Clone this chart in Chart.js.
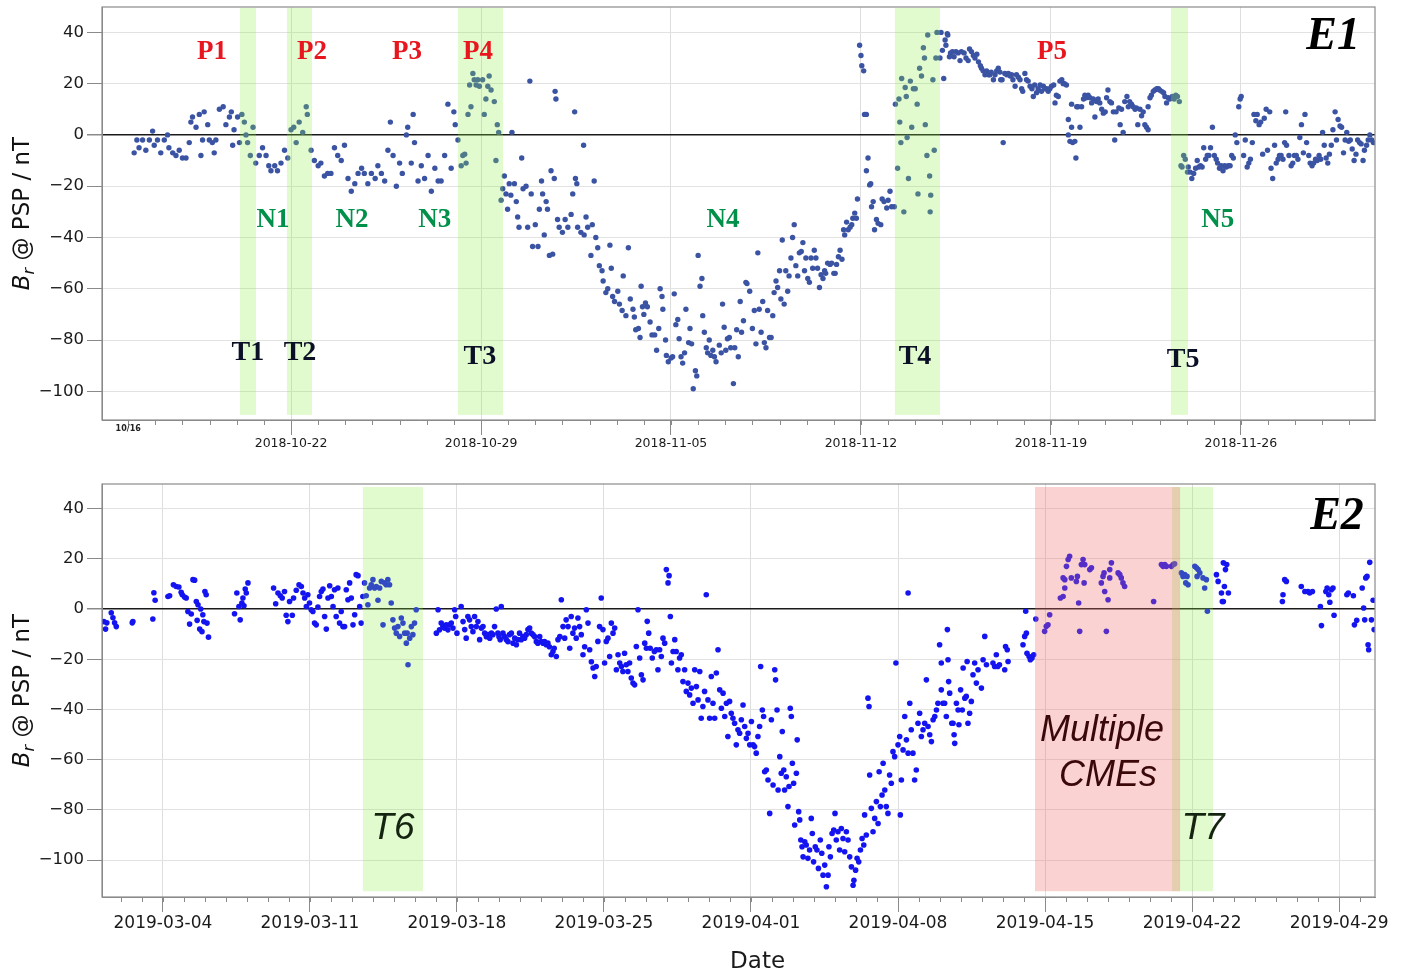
<!DOCTYPE html>
<html>
<head>
<meta charset="utf-8">
<title>Br @ PSP</title>
<script src="https://cdn.jsdelivr.net/npm/chart.js@4.4.0/dist/chart.umd.min.js"></script>
<style>
  html, body { margin: 0; padding: 0; background: #fff; }
  #wrap { position: relative; width: 1422px; height: 973px; }
  .panel { position: absolute; left: 0; width: 1422px; }
  #p1 { top: 0; height: 465px; }
  #p2 { top: 465px; height: 508px; }
</style>
</head>
<body>
<div id="wrap">
  <div class="panel" id="p1"><canvas id="canvasE1"></canvas></div>
  <div class="panel" id="p2"><canvas id="canvasE2"></canvas></div>
</div>
<script>
// ---- data: E1 (days after 2018-10-16, Br in nT) ----
const e1Base = "2018-10-16";
const e1Range = [-0.965, 45.94];
const e1YRange = [-111.2, 49.9];
const e1Ticks = ["2018-10-22", "2018-10-29", "2018-11-05", "2018-11-12", "2018-11-19", "2018-11-26"];
const e1Points = [
  [0.22,-7],[0.32,-2],[0.4,-5],[0.53,-2],[0.65,-6],[0.78,-2],[0.9,1.5],[0.96,-4],[1.08,-2],[1.2,-7],[1.33,-2],[1.45,0],
  [1.5,-5],[1.64,-7],[1.76,-8],[1.88,-6],[2.0,-9],[2.13,-9],[2.25,-3],[2.31,5],[2.37,7],[2.5,3],[2.62,8],[2.68,-8],
  [2.74,-2],[2.8,9],[2.93,4],[2.99,-2],[3.1,-3],[3.17,-7],[3.23,-2],[3.36,10],[3.5,11],[3.6,4],[3.73,7],[3.8,9],
  [3.85,-4],[3.9,2],[4.03,7],[4.1,-3],[4.19,8],[4.28,5],[4.34,0],[4.4,-3],[4.5,-8],[4.6,3],[4.7,-11],[4.83,-8],
  [4.95,-5],[5.08,-8],[5.18,-12],[5.26,-14],[5.4,-12],[5.5,-14],[5.63,-11],[5.76,-6],[5.88,-9],[6.0,2],[6.1,3],[6.19,-3],
  [6.3,5],[6.43,1],[6.56,11],[6.6,8],[6.74,-6],[6.86,-10],[7.0,-12],[7.1,-11],[7.23,-16],[7.35,-15],[7.47,-15],[7.6,-5],
  [7.72,-8],[7.85,-10],[7.97,-4],[8.1,-17],[8.22,-22],[8.35,-19],[8.47,-15],[8.6,-13],[8.7,-15],[8.83,-19],[8.96,-15],[9.1,-17],
  [9.2,-12],[9.33,-15],[9.45,-18],[9.57,-6],[9.66,5],[9.76,-8],[9.88,-20],[10.0,-11],[10.1,-15],[10.25,0],[10.3,3],[10.43,-11],
  [10.5,8],[10.55,-3],[10.68,-18],[10.8,-12],[10.92,-17],[11.05,-8],[11.17,-22],[11.3,-13],[11.42,-18],[11.53,-18],[11.66,-8],[11.78,12],
  [11.9,-13],[12.0,9],[12.05,4],[12.15,-2],
  [12.27,-12],[12.33,-8],[12.4,-7.5],[12.45,-11],[12.52,8],[12.58,19.5],[12.63,11],[12.7,24],[12.75,21.5],[12.82,19.5],[12.88,21.5],[12.94,19],
  [13.06,21.5],[13.12,8],[13.18,14],[13.25,19],[13.3,23],[13.37,17.5],[13.49,13],[13.55,-10],[13.6,4],[13.65,1],[13.74,-25.5],[13.8,-21],
  [13.86,-16],[13.92,-23],[13.98,-29],[14.04,-19],[14.1,-23.5],[14.14,1],[14.23,-19],[14.3,-26],[14.35,-32],[14.4,-36],[14.5,-9],[14.55,-21],
  [14.66,-20],[14.72,-36],[14.8,21],[14.85,-23],[14.9,-43.5],[15.0,-35],[15.1,-43.5],[15.15,-29],[15.23,-18],[15.27,-23],[15.33,-39],[15.4,-26],
  [15.45,-29],[15.52,-47],[15.58,-14],[15.64,-46.5],[15.7,-17],[15.73,17],[15.76,14],[15.82,-33],[15.88,-36],[16.0,-38],[16.1,-33],[16.2,-36],
  [16.32,-31],[16.38,-23],[16.45,9],[16.48,-17],[16.53,-19],[16.56,-36],[16.68,-38],[16.78,-4],[16.8,-39],[16.87,-32],[16.93,-36],[17.05,-47],
  [17.1,-35],[17.17,-18],[17.23,-40],[17.3,-44],[17.36,-51],[17.46,-53],[17.5,-57],[17.6,-61.5],[17.67,-60],[17.75,-43],[17.8,-52],[17.85,-63],
  [17.92,-65],[18.04,-61],[18.1,-66],[18.2,-68.5],[18.24,-55],[18.34,-70.5],[18.43,-44],[18.5,-64],[18.6,-68],[18.65,-71],[18.7,-76],[18.8,-75.5],
  [18.86,-79],[18.9,-59],[18.95,-67],[19.0,-70],[19.06,-65.5],[19.13,-67],[19.23,-73],[19.3,-78],[19.4,-78],[19.47,-84],[19.55,-75.5],[19.6,-60],
  [19.67,-63],[19.7,-68],[19.8,-80],[19.83,-86],[19.9,-88.5],[20.0,-87],[20.06,-86.5],[20.12,-62],[20.18,-74],[20.25,-72],[20.3,-79.5],[20.37,-86.5],
  [20.43,-89],[20.5,-85],[20.55,-68],[20.65,-81],[20.7,-75.5],[20.76,-81.5],[20.82,-99],[20.9,-92],[20.95,-94],[21.0,-47],[21.07,-59],[21.14,-56],
  [21.17,-70.5],[21.23,-77],[21.3,-83],[21.35,-85],[21.41,-80],[21.47,-86],[21.54,-84],[21.6,-86.5],[21.66,-88.5],[21.78,-82],[21.85,-85],[21.9,-66],
  [21.96,-75],[22.02,-84],[22.08,-79.5],[22.15,-79],[22.2,-83],[22.3,-97],[22.35,-83],[22.42,-76],[22.48,-86.5],[22.55,-65],[22.6,-77],[22.67,-72.5],
  [22.76,-57.5],[22.8,-58],[22.9,-61],[23.0,-75.5],[23.07,-68.5],[23.13,-81.5],[23.2,-46],[23.25,-68],[23.32,-77],[23.38,-65],[23.44,-81],[23.5,-83],
  [23.56,-68.5],[23.63,-79],[23.69,-79],[23.75,-70.5],[23.8,-61.5],[23.87,-57],[23.93,-59.5],[24.0,-53],[24.05,-64],[24.1,-41],[24.17,-66],[24.23,-53],
  [24.3,-61],[24.35,-55],[24.42,-48],[24.48,-40],[24.54,-35],[24.6,-51],[24.67,-55],[24.73,-46],[24.8,-45.5],[24.86,-42],[24.92,-53],[24.97,-48],
  [25.04,-56],[25.1,-57.5],[25.16,-48],[25.22,-52],[25.28,-45],[25.34,-48],[25.4,-52],[25.47,-59.5],[25.53,-54.5],[25.6,-56],[25.66,-53],[25.7,-54],
  [25.77,-50],[25.86,-50.5],[25.92,-50],[26.0,-54],[26.05,-54],[26.1,-50.5],[26.17,-47.5],[26.23,-45],[26.3,-48.5],[26.36,-37],[26.4,-39],[26.47,-34],
  [26.53,-37],[26.6,-36],[26.66,-35],[26.7,-32.5],[26.77,-30.5],[26.83,-32.5],[26.87,-25],[26.95,35],[27.0,31],[27.03,27],[27.1,25],[27.13,8],
  [27.2,8],[27.2,-14],[27.26,-9],[27.32,-19.5],[27.36,-19],[27.39,-28],[27.45,-26],[27.5,-37],[27.57,-33],[27.63,-34.5],[27.73,-35],[27.78,-25],
  [27.85,-26],[27.95,-28.5],[28.0,-25.5],[28.07,-22],[28.13,-28],[28.23,-28],[28.27,12],[28.35,-13],[28.4,14],[28.43,5],[28.47,-3],[28.5,22],
  [28.58,-30],[28.63,18.5],[28.67,15],[28.7,-1],[28.75,-17],[28.82,21],[28.87,3],[28.93,18],[29.0,18],[29.07,12],[29.1,-23],[29.16,26],
  [29.23,23],[29.3,34],[29.34,30],[29.37,4],[29.43,-8],[29.46,39],[29.53,-16],[29.55,-30],[29.57,-23.5],[29.65,21.5],[29.7,-6],[29.76,30],
  [29.8,40],[29.91,30],[29.95,40],[30.0,33],[30.05,22],[30.1,37],[30.13,35],[30.18,39.5],[30.2,39],[30.26,30.5],[30.3,32],[30.37,32.5],
  [30.43,30.5],[30.5,32.5],[30.58,32],[30.65,29],[30.7,32.5],[30.8,32],[30.87,30],[30.95,29],[31.0,33.5],[31.07,32.5],[31.14,31],[31.2,30],
  [31.27,31.5],[31.33,28.5],[31.4,27],[31.44,26],[31.5,25],[31.57,23.5],[31.63,25],[31.7,23.5],[31.75,23.5],[31.8,24.5],[31.88,21.5],[31.94,23.5],
  [32.0,25],[32.06,26],[32.12,24.5],[32.15,21.5],[32.2,21.5],[32.24,-3],[32.3,24],[32.37,23.5],[32.43,24],[32.5,23],[32.55,23.5],[32.6,21.5],
  [32.68,19],[32.73,23.5],[32.8,22.5],[32.86,21.5],[32.92,18],[32.96,17],[33.04,24],[33.1,21.5],[33.16,21],[33.23,19],[33.3,18],[33.35,15],
  [33.4,19.5],[33.47,16.5],[33.53,18],[33.6,19.5],[33.65,17],[33.72,19],[33.78,18],[33.84,18],[33.9,17],[33.96,18],[34.02,19],[34.1,19.5],
  [34.15,12.5],[34.2,15.5],[34.27,15],[34.33,21],[34.4,21.5],[34.45,20],[34.5,20],[34.57,19.5],[34.64,6],[34.64,0],[34.7,-2.5],[34.76,12],
  [34.76,3],[34.8,-3],[34.88,-2.5],[34.92,-9],[34.95,11],[35.0,11],[35.07,3],[35.13,11],[35.2,14],[35.25,15.5],[35.3,14.5],[35.37,15.5],
  [35.44,14.5],[35.5,12.5],[35.56,14],[35.62,7],[35.68,13],[35.74,14],[35.8,12.5],[35.87,10],[35.93,8.5],[36.0,9],[36.05,14.5],[36.1,17.5],
  [36.17,13],[36.23,12.5],[36.3,9],[36.35,-2],[36.4,9],[36.5,10.5],[36.55,4],[36.6,10],[36.66,1],[36.72,13],[36.8,15],[36.85,11],
  [36.9,13],[36.97,12],[37.03,11],[37.1,10],[37.15,10.5],[37.2,4],[37.28,10],[37.34,7.5],[37.4,9],[37.46,4],[37.52,3],[37.58,2],
  [37.58,11],[37.65,14.5],[37.7,15.5],[37.77,17],[37.83,17.5],[37.9,18],[37.96,18],[38.0,17.5],[38.08,17],[38.15,16.5],[38.2,15],[38.26,12.5],
  [38.32,14.5],[38.38,14],[38.47,15],[38.54,14],[38.6,15.5],[38.66,15],[38.73,13],[38.79,-12],[38.83,-12.5],[38.89,-8],[38.95,-9.5],[39.03,-14.5],
  [39.06,-12.5],[39.13,-14.5],[39.19,-17],[39.26,-15],[39.33,-13],[39.39,-10],[39.45,-12.5],[39.51,-12],[39.57,-12.5],[39.63,-5],[39.7,-9.5],[39.76,-8],
  [39.82,-8],[39.88,-5],[39.95,3],[40.02,-8],[40.09,-9.5],[40.14,-11],[40.21,-13],[40.27,-12],[40.34,-14],[40.4,-12],[40.46,-12.5],[40.53,-12],
  [40.6,-12],[40.66,-8],[40.72,-9],[40.79,0],[40.85,-3],[40.92,11],[40.97,14],[41.01,15],[41.1,-8],[41.16,-2],[41.23,-12.5],[41.29,-11],
  [41.35,-9.5],[41.42,-3],[41.48,8],[41.55,5.5],[41.6,8],[41.67,4],[41.73,5],[41.8,-7.5],[41.86,6.5],[41.93,10],[41.98,-6],[42.06,9],
  [42.11,-13],[42.17,-17],[42.24,-4],[42.3,-11],[42.37,-9.5],[42.42,-8],[42.48,-8],[42.55,-9.5],[42.61,-3],[42.65,9],[42.68,-4],[42.77,-8],
  [42.85,-12],[42.91,-11],[42.97,-8],[43.04,-8],[43.1,-9.5],[43.17,-1],[43.23,4],[43.3,-7],[43.36,8],[43.42,-3],[43.5,-8],[43.55,-11],
  [43.62,-12],[43.68,-11],[43.75,-9.5],[43.81,-10],[43.88,-8],[43.94,-9.5],[44.01,1],[44.07,-4],[44.14,-9],[44.2,-11],[44.26,-7.5],[44.33,-4],
  [44.39,2],[44.47,9],[44.52,-2],[44.58,6],[44.65,3.5],[44.71,3],[44.78,-7],[44.84,-2],[44.9,1],[44.97,-2.5],[45.03,-2],[45.1,-5.5],
  [45.17,-10],[45.24,-7.5],[45.3,-2],[45.37,-3],[45.43,-3.5],[45.5,-10],[45.55,-6],[45.63,-4],[45.69,-2],[45.75,0],[45.82,-2],[45.88,-3]
];
const e1Bands = [[4.12, 4.71], [5.85, 6.77], [12.15, 13.81], [28.25, 29.91], [38.42, 39.05]];
const e1BandSpan = [-109.2, 49.5];
const e1P = [["P1", 3.09, 32.4], ["P2", 6.77, 32.4], ["P3", 10.27, 32.4], ["P4", 12.89, 32.4], ["P5", 34.04, 32.4]];
const e1N = [["N1", 5.34, -33.2], ["N2", 8.25, -33.2], ["N3", 11.3, -33.2], ["N4", 21.92, -33.2], ["N5", 40.15, -33.2]];
const e1T = [["T1", 4.41, -85], ["T2", 6.33, -85], ["T3", 12.96, -86.6], ["T4", 28.99, -86.6], ["T5", 38.87, -87.8]];
const e1Tag = ["E1", 44.4, 38.2];

// ---- data: E2 (days after 2019-03-04, Br in nT) ----
const e2Base = "2019-03-04";
const e2Range = [-2.9, 57.71];
const e2YRange = [-114.7, 49.8];
const e2Ticks = ["2019-03-04", "2019-03-11", "2019-03-18", "2019-03-25", "2019-04-01", "2019-04-08", "2019-04-15", "2019-04-22", "2019-04-29"];
const e2Points = [
  [-2.81,-5],[-2.73,-8],[-2.67,-5.5],[-2.46,-1.5],[-2.38,-3.5],[-2.3,-5.5],[-2.22,-7],[-1.46,-5.5],[-1.43,-5],[-0.48,-4],[-0.43,6.5],[-0.37,3.5],
  [0.24,5],[0.32,5.3],[0.5,9.7],[0.63,9],[0.76,8.8],[0.87,6.7],[0.92,5.7],[1.03,4.8],[1.11,4.4],[1.19,-1],[1.27,-6],[1.35,-2],
  [1.43,11.7],[1.51,11.5],[1.59,3],[1.63,-4.5],[1.67,1.7],[1.75,-8],[1.8,0],[1.86,-9],[1.9,-2.3],[1.95,-5],[2.0,7],[2.06,5.7],
  [2.1,-5.6],[2.17,-11.2],[3.41,-1.9],[3.52,6.4],[3.62,1],[3.68,-4.3],[3.76,2.4],[3.81,4.4],[3.86,1.3],[3.92,8],[3.97,6.4],[4.05,10.4],
  [5.27,8.4],[5.37,2.1],[5.48,6.4],[5.59,5.3],[5.68,4.4],[5.79,7],[5.87,-2.5],[5.95,-5],[6.03,3],[6.16,-2.5],[6.22,4.4],[6.35,7.5],
  [6.48,9.7],[6.59,9],[6.67,6.4],[6.75,4.4],[6.83,1],[6.9,5.7],[6.98,2.4],[7.06,-0.3],[7.14,-1],[7.22,-5.6],[7.3,-6.3],[7.38,0.8],
  [7.46,5],[7.54,7],[7.62,8],[7.7,-3],[7.78,-8],[7.86,4.4],[7.94,9.3],[8.02,5],[8.1,1],[8.17,7.7],[8.25,-3],[8.33,8.4],
  [8.41,-5.6],[8.49,-1],[8.57,-7],[8.65,-7],[8.73,7.7],[8.81,3.7],[8.89,10.4],[8.97,4.4],[9.05,-6.3],[9.13,-2.3],[9.2,13.7],[9.29,13.3],
  [9.37,1],[9.44,-5.6],[9.52,5],[9.6,10.4],[9.68,5.3],[9.76,1.7],[9.84,8.4],[9.92,9.7],[10.0,11.7],[10.08,8.4],[10.16,9],[10.24,3.5],
  [10.32,8.4],[10.4,11],[10.48,-6.3],[10.56,10.4],[10.63,9.7],[10.71,11.7],[10.79,9.7],[10.87,2.4],[10.95,-4.3],[11.03,-7.6],[11.11,-9.6],[11.19,-7],
  [11.27,-10.9],[11.35,-3.6],[11.43,-5.6],[11.51,-9.6],[11.59,-13.6],[11.63,-9.6],[11.67,-22.2],[11.75,-11.6],[11.83,-7],[11.9,-10.2],[11.98,-5.6],[12.06,-0.3],
  [13.02,-9.6],[13.1,-0.3],[13.17,-8.3],[13.25,-5.6],[13.33,-7],[13.41,-7.6],[13.49,-6.3],[13.57,-8.3],[13.65,-6.3],[13.73,-5.6],[13.81,-7.6],[13.89,-0.3],
  [13.94,-3],[14.0,-9.6],
  [14.2,1],[14.29,-5],[14.37,-8.2],[14.44,-11.6],[14.52,-3],[14.6,-4.3],[14.68,-7],[14.76,-9],[14.84,-3],[14.92,-7],[15.0,-5],[15.08,-12.2],
  [15.16,-7.6],[15.24,-7],[15.32,-9.6],[15.4,-11],[15.48,-10.2],[15.56,-11.6],[15.64,-9.6],[15.71,-10.2],[15.79,-7],[15.87,0],[15.95,-9.6],[16.0,-11],
  [16.06,-12.2],[16.11,1],[16.19,-9.6],[16.27,-11],[16.35,-12.2],[16.43,-13],[16.5,-10.2],[16.59,-9.6],[16.67,-13.6],[16.75,-11.6],[16.83,-14.2],[16.9,-12.2],
  [16.98,-9.6],[17.06,-12.2],[17.14,-11],[17.22,-11.6],[17.3,-10.2],[17.38,-8.2],[17.46,-7.6],[17.54,-9.6],[17.62,-10.2],[17.7,-11],[17.78,-13],[17.85,-13.6],
  [17.94,-11],[18.02,-13],[18.1,-13.6],[18.17,-13],[18.25,-14.2],[18.33,-13.6],[18.4,-15],[18.49,-18.2],[18.57,-16.9],[18.63,-15.6],[18.73,-18.9],[18.81,-12.2],
  [18.9,-11],[18.97,3.7],[19.05,-7],[19.13,-11.6],[19.2,-4.3],[19.29,-7],[19.37,-15.6],[19.44,-3],[19.52,-9.6],[19.6,-7.6],[19.68,-11.6],[19.76,-3.6],
  [19.84,-7],[19.92,-10.2],[20.0,-18.2],[20.08,-15],[20.16,-0.3],[20.24,-5.6],[20.32,-16.2],[20.4,-21],[20.48,-23.5],[20.56,-26.9],[20.63,-22.9],[20.71,-12.9],
  [20.79,-7],[20.87,4.4],[20.95,-8.2],[21.03,-21.5],[21.11,-12.9],[21.19,-11.6],[21.27,-18.9],[21.35,-5.6],[21.43,-9.6],[21.51,-7.6],[21.59,-24.2],[21.67,-18.2],
  [21.75,-21.5],[21.83,-22.9],[21.9,-24.9],[21.98,-17.6],[22.06,-22.2],[22.14,-24.9],[22.22,-21.5],[22.3,-27.5],[22.38,-29.5],[22.46,-30.2],[22.54,-14.9],[22.62,-0.3],
  [22.7,-19.5],[22.78,-26.2],[22.86,-28.2],[22.94,-13.6],[23.02,-15.6],[23.06,-4.9],[23.13,-9.6],[23.2,-15.6],[23.3,-19.5],[23.4,-16.9],[23.49,-16.2],[23.57,-24.2],
  [23.65,-16.2],[23.73,-18.9],[23.81,-11.6],[23.89,-13.6],[23.97,15.7],[24.05,10.4],[24.1,13.3],[24.16,-3],[24.21,-21.5],[24.29,-16.9],[24.37,-12.2],[24.44,-16.9],
  [24.52,-24.2],[24.6,-19.5],[24.68,-18.2],[24.76,-28.9],[24.84,-24.2],[24.92,-32.8],[25.0,-29.5],[25.08,-34.2],[25.16,-31.5],[25.24,-37.5],[25.32,-24.2],[25.4,-30.9],
  [25.48,-36.2],[25.56,-24.9],[25.63,-43.5],[25.71,-38.8],[25.79,-32.8],[25.87,5.7],[25.95,-36.2],[26.03,-43.5],[26.11,-26.9],[26.19,-37.5],[26.27,-43.5],[26.35,-25.5],
  [26.43,-16.2],[26.51,-32.2],[26.59,-39.5],[26.67,-33.5],[26.75,-42.8],[26.83,-37.5],[26.9,-50.8],[26.98,-36.8],[27.06,-41.5],[27.14,-43.5],[27.22,-45.5],[27.3,-54.1],
  [27.38,-48.1],[27.46,-49.5],[27.54,-44.1],[27.62,-38.2],[27.7,-46.8],[27.78,-51.5],[27.86,-49.5],[27.94,-54.1],[28.02,-44.8],[28.1,-54.1],[28.17,-54.8],[28.25,-57.4],
  [28.33,-50.8],[28.41,-46.8],[28.46,-22.9],[28.54,-40.2],[28.6,-42.8],[28.65,-64.8],[28.73,-64.1],[28.81,-68.1],[28.89,-81.4],[28.97,-44.1],[29.05,-70.1],[29.13,-24.2],
  [29.17,-28.2],[29.24,-40.2],[29.29,-72.1],[29.37,-58.8],[29.44,-65.4],[29.49,-48.8],[29.56,-64.1],[29.6,-72.1],[29.68,-66.8],[29.76,-78.7],[29.81,-70.7],[29.87,-39.5],
  [29.92,-42.8],[29.97,-61.4],[30.03,-69.4],[30.08,-86],[30.16,-65.4],[30.2,-52.1],[30.27,-80.7],[30.32,-84],[30.37,-92],[30.43,-94.7],[30.48,-98.7],[30.56,-92.7],
  [30.63,-94],[30.71,-99.3],[30.79,-96],[30.87,-83.4],[30.92,-89.4],[30.98,-100.7],[31.06,-94.7],[31.14,-96],[31.21,-103.3],[31.3,-92],[31.37,-97.3],[31.43,-106],
  [31.51,-102],[31.59,-110.6],[31.67,-106],[31.71,-94.7],[31.78,-98.7],[31.86,-89.4],[31.94,-88],[32.0,-81.4],[32.06,-92],[32.14,-88.7],[32.22,-96],[32.3,-87.4],
  [32.38,-91.4],[32.46,-96.7],[32.54,-88.7],[32.62,-92],[32.7,-98.7],[32.78,-102.7],[32.86,-110],[32.9,-108],[32.98,-104],[33.05,-99.3],[33.13,-100.7],[33.21,-96],
  [33.29,-91.4],[33.37,-94],[33.41,-82],[33.49,-90],[33.57,-35.5],[33.62,-38.8],[33.65,-66.1],[33.73,-79.4],[33.81,-88.7],[33.89,-83.4],[33.97,-76.7],[34.05,-85.4],
  [34.1,-64.8],[34.16,-78.7],[34.24,-74.1],[34.29,-61.4],[34.37,-72.1],[34.44,-78.7],[34.52,-81.4],[34.6,-66.1],[34.68,-69.4],[34.76,-56.8],[34.84,-58.8],[34.9,-21.5],
  [35.0,-54.1],[35.08,-50.8],[35.11,-82],[35.16,-68.1],[35.24,-56.1],[35.32,-42.8],[35.4,-52.1],[35.48,6.4],[35.48,-57.4],[35.56,-37.5],[35.63,-48.1],[35.71,-57.4],
  [35.79,-68.1],[35.87,-64.1],[35.95,-45.5],[36.03,-41.5],[36.11,-50.8],[36.19,-48.1],[36.27,-45.5],[36.35,-28.2],[36.43,-46.8],[36.51,-50.1],[36.59,-52.8],[36.67,-44.1],
  [36.75,-42.8],[36.83,-40.2],[36.9,-37.5],[36.98,-14.2],
  [37.06,-21.5],[37.06,-32.2],[37.14,-37.5],[37.22,-37.5],[37.3,-42.8],[37.35,-8.2],[37.38,-20.2],[37.41,-28.9],[37.46,-33.5],[37.56,-45.5],[37.62,-45.5],[37.67,-50.1],
  [37.7,-53.5],[37.78,-37.5],[37.86,-40.2],[37.9,-46.1],[37.98,-32.2],[38.06,-40.2],[38.1,-23.5],[38.18,-35.5],[38.25,-34.8],[38.29,-20.9],[38.33,-45.5],[38.41,-41.5],
  [38.49,-36.8],[38.57,-26.2],[38.65,-21.5],[38.73,-29.5],[38.81,-24.2],[38.97,-31.5],[39.05,-20.2],[39.13,-10.9],[39.21,-22.2],[39.52,-21.5],[39.6,-22.9],[39.68,-18.2],
  [39.75,-22.9],[39.83,-22.2],[40.08,-24.2],[40.12,-14.9],[40.2,-16.2],[40.24,-20.9],[40.95,-14.2],[41.03,-10.9],[41.08,-0.9],[41.11,-9.6],[41.14,-17.6],[41.24,-18.9],
  [41.3,-20.2],[41.38,-19.5],[41.46,-18.2],[41.56,-4],[41.98,-8.9],[42.06,-6.9],[42.14,-6.3],[42.22,-2.3],[42.73,4.4],[42.86,5],[42.94,8.4],[42.86,12.4],
  [42.94,11.7],[43.02,17],[43.1,19.7],[43.17,21],[43.25,12.4],[43.49,11],[43.54,13],[43.6,2.4],[43.65,-8.9],[43.73,17.7],[43.81,19.7],[43.86,10.4],
  [43.89,17.7],[44.13,15.7],[44.21,16.4],[44.68,10.4],[44.76,13],[44.81,14.4],[44.84,7],[44.92,-8.9],[45.0,3.7],[45.08,15.7],[45.16,18.4],[45.08,12.4],
  [45.48,14.4],[45.56,13.7],[45.63,12.4],[45.71,10.4],[45.79,9],[47.17,3],[47.54,17.7],[47.62,17],[47.7,17.7],[47.78,17],[48.02,17],[48.1,17.7],
  [48.17,18],[48.49,14.4],[48.57,13],[48.65,13.7],[48.7,10.4],[48.76,13],[48.81,9.7],[49.13,17],[49.21,16.4],[49.29,15.7],[49.37,14.4],[49.24,13],
  [49.52,12.4],[49.6,8.4],[49.68,11.7],[49.73,-0.9],[50.16,13.7],[50.24,11],[50.4,6.4],[50.44,3],[50.49,3],[50.54,9],[50.49,18.4],[50.59,15.7],
  [50.65,17.7],[50.73,6.4],[53.3,3],[53.33,5.7],[53.41,11.7],[53.49,11],[54.2,9],[54.37,7],[54.52,7],[54.6,6.4],[54.73,7],[55.11,1],
  [55.16,-6.6],[55.37,7],[55.43,8.4],[55.51,5.7],[55.56,2.7],[55.63,7.7],[55.71,8.4],[55.76,-2.5],[56.37,5.7],[56.44,6.4],[56.68,5.3],[56.73,-6.3],
  [56.84,-4.5],[57.1,8.4],[57.17,0.4],[57.22,-4.3],[57.27,12.4],[57.33,13],[57.38,-14.2],[57.41,-16.2],[57.46,18.6],[57.54,-4.3],[57.62,3.5],[57.67,-8.2]
];
const e2Green = [[9.52, 12.38], [48.05, 50.0]];
const e2Red = [[41.52, 48.43]];
const e2BandSpan = [-112.4, 48.6];
const e2T = [["T6", 10.95, -87.3], ["T7", 49.52, -87.3]];
const e2Cme = [["Multiple", 44.71, -48.5], ["CMEs", 45.0, -66.5]];
const e2Tag = ["E2", 55.9, 36.7];

// ---- helpers ----
const DAY = 86400000;
const dayNum = (s) => Date.parse(s + "T00:00:00Z") / DAY;
const fmtDay = (v) => new Date(Math.round(v) * DAY).toISOString().slice(0, 10);
const minus = (s) => String(s).replace("-", "\u2212");

Chart.defaults.font.family = "'DejaVu Sans', sans-serif";
Chart.defaults.color = "#1a1a1a";

const drawYTitle = (chart) => {
  const ctx = chart.ctx;
  const a = chart.chartArea;
  const parts = [
    ["B", "italic 23px 'DejaVu Sans'", 0],
    ["r", "italic 16px 'DejaVu Sans'", 5],
    [" @ PSP / nT", "23px 'DejaVu Sans'", 0],
  ];
  ctx.save();
  ctx.translate(21, (a.top + a.bottom) / 2);
  ctx.rotate(-Math.PI / 2);
  let total = 0;
  parts.forEach((p) => { ctx.font = p[1]; total += ctx.measureText(p[0]).width; });
  let cx = -total / 2;
  ctx.fillStyle = "#111";
  ctx.textBaseline = "alphabetic";
  parts.forEach((p) => {
    ctx.font = p[1];
    ctx.fillText(p[0], cx, 8 + p[2]);
    cx += ctx.measureText(p[0]).width;
  });
  ctx.restore();
};

const marksPlugin = {
  id: "marks",
  afterDatasetsDraw(chart, args, opts) {
    const { ctx, chartArea: a, scales: { x, y } } = chart;
    ctx.save();
    ctx.beginPath();
    ctx.rect(a.left, a.top, a.right - a.left, a.bottom - a.top);
    ctx.clip();
    opts.bands.forEach((b) => {
      const x0 = x.getPixelForValue(b.from), x1 = x.getPixelForValue(b.to);
      const y0 = y.getPixelForValue(b.span[1]), y1 = y.getPixelForValue(b.span[0]);
      ctx.fillStyle = b.color;
      ctx.fillRect(x0, y0, x1 - x0, y1 - y0);
    });
    ctx.restore();
  },
  afterDraw(chart, args, opts) {
    const { ctx, chartArea: a, scales: { x, y } } = chart;
    ctx.save();
    // frame
    ctx.strokeStyle = "#8a8a8a";
    ctx.lineWidth = 1.2;
    ctx.strokeRect(a.left, a.top, a.right - a.left, a.bottom - a.top);
    // minor ticks, one per day
    ctx.lineWidth = 1;
    for (let d = Math.ceil(x.min); d <= Math.floor(x.max); d++) {
      const px = Math.round(x.getPixelForValue(d)) + 0.5;
      ctx.beginPath();
      ctx.moveTo(px, a.bottom);
      ctx.lineTo(px, a.bottom + 5);
      ctx.stroke();
    }
    if (opts.smallLabel) {
      ctx.font = "bold 8px 'DejaVu Sans'";
      ctx.fillStyle = "#222";
      ctx.textAlign = "center";
      ctx.textBaseline = "middle";
      ctx.fillText(opts.smallLabel[0], x.getPixelForValue(opts.smallLabel[1]), a.bottom + 9);
    }
    // x axis title
    if (opts.xTitle) {
      ctx.font = "23px 'DejaVu Sans'";
      ctx.fillStyle = "#1a1a1a";
      ctx.textAlign = "center";
      ctx.textBaseline = "alphabetic";
      ctx.fillText(opts.xTitle, a.left + (a.right - a.left) * 0.515, a.bottom + 71);
    }
    // annotations
    ctx.textAlign = "center";
    ctx.textBaseline = "middle";
    opts.texts.forEach((t) => {
      ctx.font = t.font;
      ctx.fillStyle = t.color;
      t.items.forEach((it) => {
        ctx.fillText(it[0], x.getPixelForValue(it[1]), y.getPixelForValue(it[2]));
      });
    });
    ctx.restore();
    drawYTitle(chart);
  }
};

const makeChart = (canvasId, cfg) => {
  const base = dayNum(cfg.base);
  const tickValues = cfg.ticks.map(dayNum);
  return new Chart(document.getElementById(canvasId).getContext("2d"), {
    type: "scatter",
    data: {
      datasets: [{
        data: cfg.points.map((p) => ({ x: base + p[0], y: p[1] })),
        pointRadius: cfg.radius,
        pointBorderWidth: 0,
        pointBackgroundColor: cfg.dot,
        pointHoverRadius: cfg.radius,
      }]
    },
    options: {
      responsive: true,
      maintainAspectRatio: false,
      animation: false,
      events: [],
      layout: { padding: { left: 0, right: 47, top: cfg.top, bottom: 0 } },
      plugins: {
        legend: { display: false },
        tooltip: { enabled: false },
        marks: {
          bands: cfg.bands.map((b) => ({ from: base + b[0], to: base + b[1], span: b[2], color: b[3] })),
          texts: cfg.texts.map((t) => ({
            font: t.font, color: t.color,
            items: t.items.map((it) => [it[0], base + it[1], it[2]])
          })),
          smallLabel: cfg.smallLabel ? [cfg.smallLabel[0], base + cfg.smallLabel[1]] : null,
          xTitle: cfg.xTitle || null,
        }
      },
      scales: {
        x: {
          type: "linear",
          min: base + cfg.range[0],
          max: base + cfg.range[1],
          afterBuildTicks: (scale) => { scale.ticks = tickValues.map((v) => ({ value: v })); },
          afterFit: (scale) => {
            scale.height = cfg.xAxisHeight;
            scale.paddingLeft = 0;
            scale.paddingRight = 0;
          },
          ticks: {
            autoSkip: false, maxRotation: 0, padding: 1,
            font: { size: cfg.xFont }, color: "#1a1a1a",
            callback: (v) => fmtDay(v),
          },
          grid: { color: "#dedede", lineWidth: 1, tickColor: "#8a8a8a", tickLength: 15 },
          border: { display: true, color: "#8a8a8a" },
        },
        y: {
          type: "linear",
          min: cfg.yRange[0],
          max: cfg.yRange[1],
          afterFit: (scale) => {
            scale.width = 102;
            scale.paddingTop = 0;
            scale.paddingBottom = 0;
          },
          ticks: {
            stepSize: 20, includeBounds: false, padding: 3,
            font: { size: 16.5 }, color: "#1a1a1a",
            callback: (v) => minus(v),
          },
          grid: {
            color: (c) => (c.tick && c.tick.value === 0 ? "#1a1a1a" : "#e2e2e2"),
            lineWidth: (c) => (c.tick && c.tick.value === 0 ? 1.5 : 1),
            tickColor: "#8a8a8a", tickLength: 15,
          },
          border: { display: true, color: "#8a8a8a" },
        }
      }
    },
    plugins: [marksPlugin]
  });
};

const green = "rgba(139, 235, 67, 0.26)";
const red = "rgba(238, 105, 105, 0.3)";
const serif = "'Liberation Serif', 'Times New Roman', serif";
const sans = "'Liberation Sans', Arial, sans-serif";

makeChart("canvasE1", {
  base: e1Base, range: e1Range, yRange: e1YRange, ticks: e1Ticks, points: e1Points,
  dot: "#3b53a3", radius: 2.7, top: 7, xAxisHeight: 45, xFont: 12.5,
  smallLabel: ["10/16", 0],
  bands: e1Bands.map((b) => [b[0], b[1], e1BandSpan, green]),
  texts: [
    { font: "bold 27px " + serif, color: "#e8161e", items: e1P },
    { font: "bold 27px " + serif, color: "#00904a", items: e1N },
    { font: "bold 28px " + serif, color: "#0b1026", items: e1T },
    { font: "italic bold 46px " + serif, color: "#000", items: [e1Tag] },
  ],
});

makeChart("canvasE2", {
  base: e2Base, range: e2Range, yRange: e2YRange, ticks: e2Ticks, points: e2Points,
  dot: "#1414f0", radius: 2.8, top: 19, xAxisHeight: 76, xFont: 17, xTitle: "Date",
  bands: e2Green.map((b) => [b[0], b[1], e2BandSpan, green]).concat(e2Red.map((b) => [b[0], b[1], e2BandSpan, red])),
  texts: [
    { font: "italic 37px " + sans, color: "#152410", items: e2T },
    { font: "italic 36px " + sans, color: "#3a0808", items: e2Cme },
    { font: "italic bold 46px " + serif, color: "#000", items: [e2Tag] },
  ],
});
</script>
</body>
</html>
